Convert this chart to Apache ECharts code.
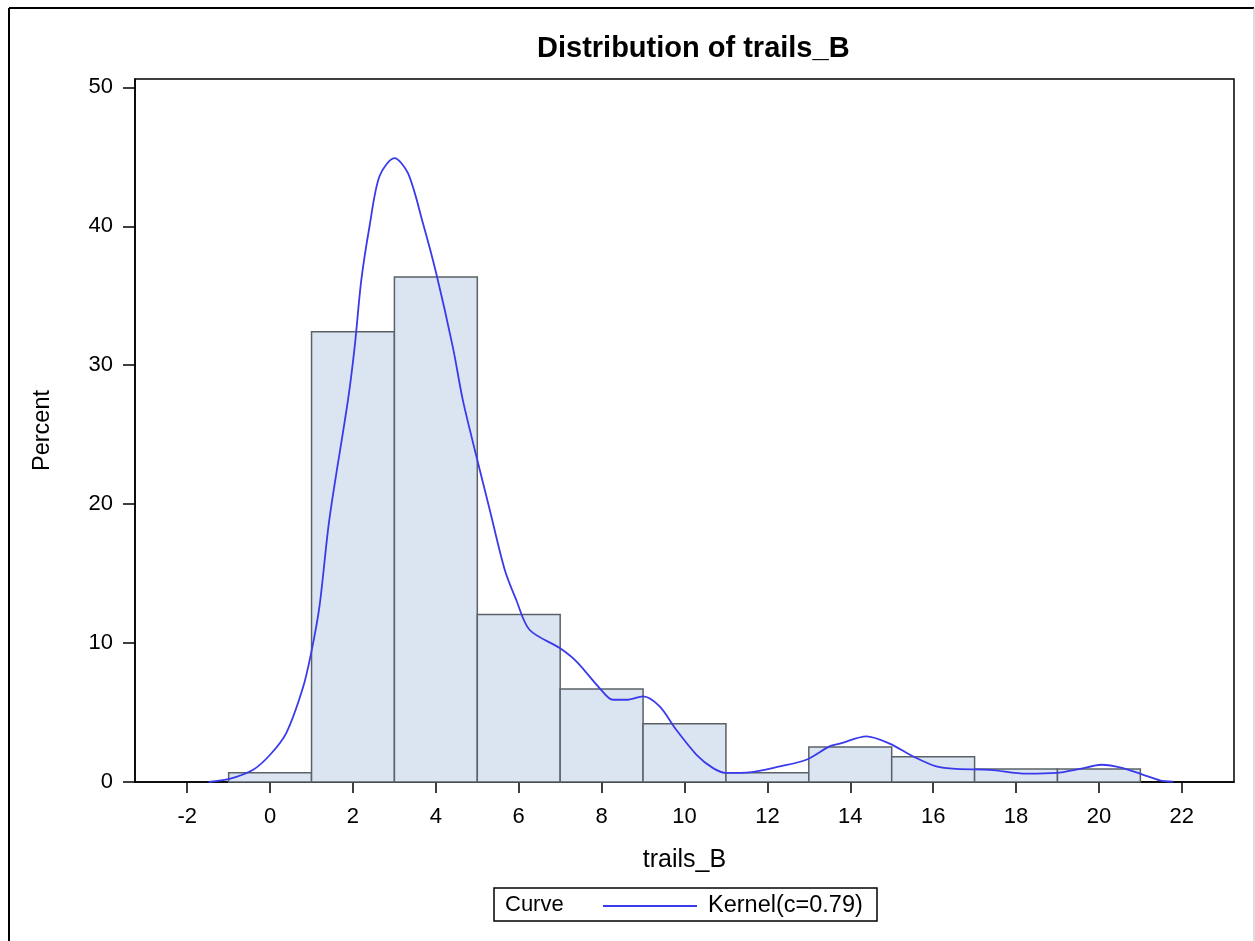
<!DOCTYPE html>
<html>
<head>
<meta charset="utf-8">
<script src="https://cdn.jsdelivr.net/npm/echarts@6/dist/echarts.min.js"></script>
<style>
html,body{margin:0;padding:0;background:#fff;}
#chart{width:1255px;height:941px;}
</style>
</head>
<body>
<div id="chart"></div>
<script>
// ---- data ----
const xTicks = [-2, 0, 2, 4, 6, 8, 10, 12, 14, 16, 18, 20, 22];
const yTicks = [0, 10, 20, 30, 40, 50];
const binLow  = [-1, 1, 3, 5, 7, 9, 11, 13, 15, 17, 19];
const binHigh = [ 1, 3, 5, 7, 9, 11, 13, 15, 17, 19, 21];
const binPercent = [0.67, 32.4, 36.35, 12.05, 6.7, 4.2, 0.67, 2.52, 1.82, 0.94, 0.94];
const kernelX = [-1.48, -0.98, -0.41, 0.0, 0.39, 0.79, 0.99, 1.19, 1.43, 1.88, 2.04, 2.20, 2.40, 2.64, 3.0, 3.33, 3.69, 4.01, 4.41, 4.65, 4.94, 5.3, 5.66, 5.94, 6.26, 6.99, 7.39, 7.95, 8.27, 8.6, 9.0, 9.40, 9.80, 10.29, 10.69, 11.01, 11.57, 12.30, 12.94, 13.50, 13.75, 14.39, 14.95, 15.52, 16.08, 16.56, 17.37, 18.25, 18.98, 19.54, 20.06, 20.58, 21.07, 21.47, 21.79];
const kernelY = [0.0, 0.22, 0.88, 1.96, 3.52, 6.76, 9.28, 12.6, 18.9, 27.5, 31.3, 36.1, 40.0, 43.6, 44.9, 43.8, 40.2, 36.6, 31.3, 27.5, 23.9, 19.6, 15.3, 13.1, 10.96, 9.64, 8.68, 6.76, 5.92, 5.92, 6.16, 5.44, 3.76, 1.96, 1.0, 0.65, 0.69, 1.12, 1.6, 2.56, 2.76, 3.28, 2.76, 1.84, 1.12, 0.94, 0.88, 0.6, 0.65, 0.94, 1.24, 1.0, 0.52, 0.12, 0.02];
const titleText = 'Distribution of trails_B';
const xName = 'trails_B';
const yName = 'Percent';
const legendTitle = 'Curve';
const curveName = 'Kernel(c=0.79)';

// ---- chart ----
const chart = echarts.init(document.getElementById('chart'), null, {renderer: 'canvas'});
const FONT = '"Liberation Sans", Arial, sans-serif';
const histData = binLow.map((lo, i) => [lo, binHigh[i], binPercent[i]]);
const kernelData = kernelX.map((x, i) => [x, kernelY[i]]);

chart.setOption({
  animation: false,
  backgroundColor: '#fff',
  title: {
    text: titleText,
    left: 532, top: 29,
    textStyle: {fontFamily: FONT, fontWeight: 'bold', fontSize: 29, color: '#000'}
  },
  grid: {
    left: 135, right: 21, top: 79, bottom: 159,
    show: true, borderColor: '#000', borderWidth: 1.5, containLabel: false
  },
  xAxis: {
    type: 'value', min: -3.26, max: 23.26,
    name: xName, nameLocation: 'middle', nameGap: 66,
    nameTextStyle: {fontFamily: FONT, fontSize: 25, color: '#000'},
    axisLine: {show: true, onZero: false, lineStyle: {color: '#000', width: 1.5}},
    axisTick: {show: true, length: 11, customValues: xTicks, lineStyle: {color: '#000', width: 1.5}},
    axisLabel: {customValues: xTicks, margin: 24, fontFamily: FONT, fontSize: 22, color: '#000'},
    splitLine: {show: false}
  },
  yAxis: {
    type: 'value', min: 0, max: 50.6,
    name: yName, nameLocation: 'middle', nameGap: 80, nameRotate: 90,
    nameTextStyle: {fontFamily: FONT, fontSize: 23.5, color: '#000'},
    axisLine: {show: true, onZero: false, lineStyle: {color: '#000', width: 1.5}},
    axisTick: {show: true, length: 12, customValues: yTicks, lineStyle: {color: '#000', width: 1.5}},
    axisLabel: {customValues: yTicks, margin: 22, fontFamily: FONT, fontSize: 22, color: '#000'},
    splitLine: {show: false}
  },
  legend: {
    data: [{name: curveName, icon: 'rect'}],
    left: 603, top: 894,
    padding: 0,
    itemWidth: 94, itemHeight: 2,
    selectedMode: false,
    textStyle: {fontFamily: FONT, fontSize: 23.5, color: '#000', padding: [0, 0, 0, 6]}
  },
  graphic: [
    {type: 'line', shape: {x1: 9, y1: 8, x2: 1254, y2: 8}, style: {stroke: '#000', lineWidth: 2}, silent: true},
    {type: 'line', shape: {x1: 9, y1: 8, x2: 9, y2: 941}, style: {stroke: '#000', lineWidth: 2}, silent: true},
    {type: 'line', shape: {x1: 1254, y1: 8, x2: 1254, y2: 941}, style: {stroke: '#bbb', lineWidth: 1}, silent: true},
    {type: 'rect', shape: {x: 494, y: 888, width: 383, height: 33}, style: {fill: 'none', stroke: '#000', lineWidth: 1.5}, silent: true},
    {type: 'text', left: 505, top: 894, style: {text: legendTitle, font: '22px ' + FONT, fill: '#000'}, silent: true}
  ],
  series: [
    {
      type: 'custom',
      name: 'hist',
      data: histData,
      encode: {x: [0, 1], y: 2},
      renderItem: function (params, api) {
        const lo = api.value(0), hi = api.value(1), v = api.value(2);
        const p1 = api.coord([lo, v]);
        const p2 = api.coord([hi, 0]);
        return {
          type: 'rect',
          shape: {x: p1[0], y: p1[1], width: p2[0] - p1[0], height: p2[1] - p1[1]},
          style: {fill: '#dbe5f1', stroke: '#5b6167', lineWidth: 1.5}
        };
      },
      z: 2
    },
    {
      type: 'line',
      name: curveName,
      data: kernelData,
      smooth: 0.3,
      showSymbol: false,
      lineStyle: {color: '#3a3aec', width: 1.8},
      itemStyle: {color: '#3a3aec'},
      z: 3
    }
  ]
});
</script>
</body>
</html>
